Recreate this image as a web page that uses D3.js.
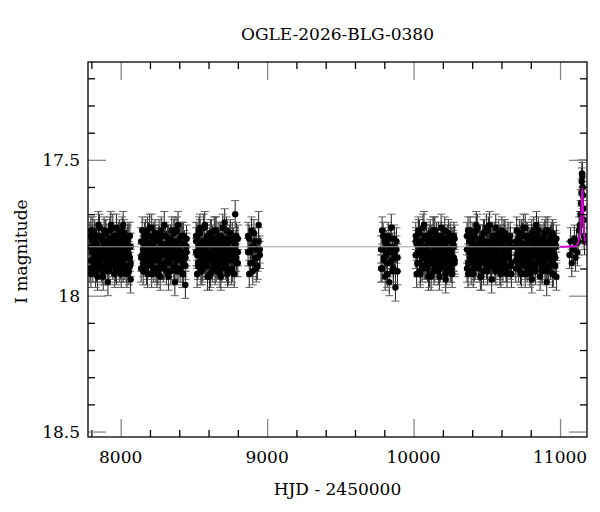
<!DOCTYPE html>
<html><head><meta charset="utf-8">
<script src="https://d3js.org/d3.v7.min.js"></script>
<style>body{margin:0;background:#fff}text{font-family:"DejaVu Serif","Liberation Serif",serif;fill:#000}</style>
</head><body><svg id="c" width="600" height="512"></svg>
<script>
const title = "OGLE-2026-BLG-0380";
const xLabel = "HJD - 2450000";
const yLabel = "I magnitude";
const xTicks = [8000, 9000, 10000, 11000];
const yTicks = [17.5, 18, 18.5];
const xDomain = [7777, 11184];
const yDomain = [17.14, 18.52];
const baseline = 17.82;
const typicalErr = 0.05;

const t1=[7790,7797,7803,7810,7816,7822,7829,7835,7842,7848,7855,7861,7868,7874,7881,7887,7894,7900,7907,7913,7920,7926,7933,7939,7946,7952,7959,7965,7972,7978,7985,7991,7998,8004,8011,8017,8024,8030,8037,8043,8050,8056,8063,8068];
const m1=[17.82,17.87,17.79,17.90,17.84,17.77,17.88,17.81,17.93,17.85,17.78,17.87,17.83,17.91,17.80,17.76,17.89,17.84,17.82,17.95,17.79,17.86,17.81,17.88,17.75,17.85,17.92,17.83,17.80,17.87,17.78,17.90,17.84,17.82,17.86,17.74,17.89,17.81,17.85,17.83,17.79,17.91,17.86,17.94];
const t2=[8140,8147,8154,8162,8169,8176,8183,8190,8198,8205,8212,8219,8226,8234,8241,8248,8255,8262,8270,8277,8284,8291,8298,8306,8313,8320,8327,8334,8342,8349,8356,8363,8370,8378,8385,8392,8399,8406,8414,8421,8428,8435,8442,8450];
const m2=[17.86,17.80,17.91,17.78,17.85,17.89,17.76,17.84,17.81,17.88,17.92,17.79,17.86,17.77,17.90,17.83,17.80,17.87,17.93,17.82,17.85,17.78,17.89,17.84,17.91,17.79,17.81,17.88,17.86,17.76,17.84,17.83,17.95,17.80,17.87,17.74,17.82,17.90,17.85,17.78,17.88,17.81,17.96,17.84];
const t3=[8515,8522,8528,8535,8541,8548,8554,8561,8567,8574,8580,8587,8593,8600,8606,8613,8619,8626,8632,8639,8645,8652,8658,8665,8671,8678,8684,8691,8697,8704,8710,8717,8723,8730,8736,8743,8749,8756,8762,8769,8775,8782,8790,8800];
const m3=[17.84,17.78,17.89,17.82,17.75,17.87,17.91,17.80,17.85,17.83,17.88,17.79,17.93,17.81,17.86,17.77,17.84,17.90,17.82,17.87,17.76,17.85,17.89,17.80,17.83,17.92,17.78,17.86,17.81,17.88,17.73,17.84,17.90,17.82,17.86,17.79,17.85,17.91,17.80,17.87,17.83,17.70,17.88,17.84];
const t4=[8870,8878,8886,8894,8902,8910,8918,8926,8934,8942,8950];
const m4=[17.84,17.79,17.88,17.82,17.91,17.77,17.86,17.83,17.89,17.80,17.85];
const t5=[9778,9785,9792,9799,9806,9813,9820,9827,9834,9841,9848,9855,9862,9869,9876,9883,9890];
const m5=[17.83,17.90,17.78,17.86,17.93,17.81,17.88,17.84,17.95,17.79,17.87,17.82,17.91,17.85,17.97,17.80,17.86];
const t6=[10015,10021,10027,10033,10040,10046,10052,10058,10064,10071,10077,10083,10089,10095,10102,10108,10114,10120,10126,10133,10139,10145,10151,10157,10164,10170,10176,10182,10188,10195,10201,10207,10213,10219,10226,10232,10238,10244,10250,10257,10263,10269,10275,10280];
const m6=[17.85,17.81,17.88,17.77,17.84,17.92,17.80,17.86,17.83,17.89,17.78,17.85,17.82,17.90,17.87,17.79,17.84,17.93,17.81,17.86,17.76,17.88,17.83,17.85,17.80,17.91,17.84,17.87,17.78,17.82,17.89,17.85,17.81,17.94,17.86,17.79,17.83,17.88,17.84,17.90,17.80,17.86,17.82,17.87];
const t7=[10365,10372,10379,10386,10393,10400,10407,10414,10421,10428,10435,10442,10449,10456,10463,10470,10477,10484,10491,10498,10505,10512,10519,10526,10533,10540,10547,10554,10561,10568,10575,10582,10589,10596,10603,10610,10617,10624,10631,10638,10645,10652,10660,10668];
const m7=[17.83,17.88,17.80,17.86,17.91,17.78,17.84,17.82,17.89,17.76,17.85,17.87,17.81,17.93,17.84,17.79,17.88,17.83,17.86,17.75,17.90,17.82,17.85,17.80,17.94,17.87,17.83,17.78,17.89,17.84,17.81,17.86,17.91,17.79,17.85,17.82,17.88,17.77,17.84,17.90,17.83,17.86,17.80,17.92];
const t8=[10698,10704,10711,10717,10724,10730,10736,10743,10749,10756,10762,10768,10775,10781,10788,10794,10800,10807,10813,10820,10826,10832,10839,10845,10852,10858,10864,10871,10877,10884,10890,10896,10903,10909,10916,10922,10928,10935,10941,10948,10954,10960,10967,10975];
const m8=[17.87,17.82,17.79,17.90,17.84,17.86,17.77,17.88,17.83,17.81,17.92,17.85,17.78,17.89,17.84,17.80,17.87,17.94,17.82,17.85,17.79,17.91,17.83,17.86,17.76,17.88,17.84,17.81,17.90,17.85,17.78,17.87,17.83,17.95,17.80,17.86,17.82,17.89,17.84,17.77,17.88,17.85,17.81,17.93];
const t9=[11065,11072,11080,11090,11098,11105,11112,11118,11124,11130,11135,11140,11143,11146,11148,11150,11152,11154,11156,11158,11161,11164,11167];
const m9=[17.85,17.80,17.88,17.83,17.79,17.86,17.81,17.84,17.80,17.76,17.74,17.70,17.66,17.62,17.58,17.55,17.56,17.60,17.63,17.68,17.72,17.78,17.80];
// second and third observations on the same nights
const n1=[17.78,17.92,17.84,17.76,17.88,17.82,17.80,17.90,17.86,17.74,17.83,17.89,17.79,17.85,17.93,17.81,17.77,17.87,17.84,17.80,17.91,17.76,17.86,17.82,17.89,17.78,17.84,17.90,17.75,17.83,17.88,17.81,17.79,17.92,17.85,17.87,17.77,17.84,17.90,17.80,17.86,17.82,17.78,17.88];
const n2=[17.90,17.76,17.83,17.87,17.80,17.85,17.92,17.78,17.82,17.88,17.75,17.84,17.90,17.79,17.86,17.83,17.91,17.77,17.85,17.89,17.81,17.84,17.74,17.88,17.82,17.86,17.79,17.80,17.91,17.85,17.83,17.77,17.89,17.81,17.76,17.90,17.84,17.79,17.86,17.92,17.78,17.85,17.89,17.82];
const n3=[17.80,17.85,17.88,17.81,17.77,17.91,17.83,17.86,17.75,17.84,17.89,17.82,17.78,17.87,17.80,17.92,17.85,17.79,17.88,17.76,17.83,17.90,17.85,17.78,17.81,17.87,17.93,17.84,17.79,17.86,17.82,17.89,17.76,17.85,17.91,17.80,17.83,17.87,17.78,17.84,17.92,17.81,17.86,17.79];
const modelT=[7777,11000,11100,11120,11130,11138,11143,11147,11150,11152,11154,11157,11161,11166,11172,11184];
const modelM=[17.82,17.82,17.818,17.81,17.79,17.76,17.72,17.67,17.62,17.60,17.62,17.67,17.73,17.78,17.80,17.815];

const seasons=[[t1,m1],[t1,n1],[t1,n2],[t2,m2],[t2,n2],[t2,n3],[t3,m3],[t3,n3],[t3,n1],[t4,m4],[t4,n1],[t5,m5],[t5,n2],
 [t6,m6],[t6,n1],[t6,n3],[t7,m7],[t7,n2],[t7,n1],[t8,m8],[t8,n3],[t8,n2],[t9,m9]];
const pts=seasons.flatMap(([t,m])=>d3.zip(t,m));

const L=88,R=587,T=62,B=437;
const x=d3.scaleLinear().domain(xDomain).range([L,R]);
const y=d3.scaleLinear().domain(yDomain).range([T,B]);
const svg=d3.select("#c");
svg.append("clipPath").attr("id","clip").append("rect").attr("x",L).attr("y",T).attr("width",R-L).attr("height",B-T);
const g=svg.append("g").attr("clip-path","url(#clip)");

const eb=g.append("g").attr("stroke-width",1);
pts.forEach(([t,m])=>{
  const X=x(t),y1=y(m-typicalErr),y2=y(m+typicalErr);
  eb.append("line").attr("x1",X).attr("x2",X).attr("y1",y1).attr("y2",y2).attr("stroke","#222");
  eb.append("line").attr("x1",X-4).attr("x2",X+4).attr("y1",y1).attr("y2",y1).attr("stroke","#666");
  eb.append("line").attr("x1",X-4).attr("x2",X+4).attr("y1",y2).attr("y2",y2).attr("stroke","#666");
});
g.append("g").selectAll("circle").data(pts).join("circle").attr("cx",d=>x(d[0])).attr("cy",d=>y(d[1])).attr("r",3.2).attr("fill","#000");
g.append("path").datum(d3.zip(xDomain,[baseline,baseline])).attr("fill","none").attr("stroke","#a0a0a0").attr("stroke-width",1)
 .attr("d",d3.line().x(d=>x(d[0])).y(d=>y(d[1])));
g.append("path").datum(d3.zip(modelT,modelM).filter(d=>d[0]>=11000)).attr("fill","none").attr("stroke","#d000d0").attr("stroke-width",1.8)
 .attr("d",d3.line().curve(d3.curveMonotoneX).x(d=>x(d[0])).y(d=>y(d[1])));

const xMinor=d3.range(7800,11200,200).filter(v=>v%1000!==0);
const yMinor=d3.range(17.2,18.55,0.1).map(v=>+v.toFixed(1)).filter(v=>!yTicks.includes(v));
const ax=svg.append("g");
const add=(axis,tr,col)=>{const s=ax.append("g").attr("transform",tr).call(axis);s.selectAll("path").remove();s.selectAll("line").attr("stroke",col).attr("stroke-width",1.3);s.selectAll("text").remove();};
add(d3.axisBottom(x).tickValues(xTicks).tickSize(-18),`translate(0,${B})`,"#888");
add(d3.axisBottom(x).tickValues(xMinor).tickSize(-7),`translate(0,${B})`,"#000");
add(d3.axisTop(x).tickValues(xTicks).tickSize(-18),`translate(0,${T})`,"#888");
add(d3.axisTop(x).tickValues(xMinor).tickSize(-7),`translate(0,${T})`,"#000");
add(d3.axisLeft(y).tickValues(yTicks).tickSize(-18),`translate(${L},0)`,"#888");
add(d3.axisLeft(y).tickValues(yMinor).tickSize(-7),`translate(${L},0)`,"#000");
add(d3.axisRight(y).tickValues(yTicks).tickSize(-18),`translate(${R},0)`,"#888");
add(d3.axisRight(y).tickValues(yMinor).tickSize(-7),`translate(${R},0)`,"#000");
svg.append("rect").attr("x",L).attr("y",T).attr("width",R-L).attr("height",B-T).attr("fill","none").attr("stroke","#000").attr("stroke-width",1.3);

svg.selectAll(".xl").data(xTicks).join("text").attr("x",d=>x(d)).attr("y",463).attr("text-anchor","middle").attr("font-size",17).text(d=>d);
svg.selectAll(".yl").data(yTicks).join("text").attr("x",80).attr("y",d=>y(d)+6).attr("text-anchor","end").attr("font-size",17).text(d=>d);
svg.append("text").attr("x",(L+R)/2).attr("y",40).attr("text-anchor","middle").attr("font-size",17).text(title);
svg.append("text").attr("x",(L+R)/2).attr("y",495).attr("text-anchor","middle").attr("font-size",17).text(xLabel);
svg.append("text").attr("transform",`translate(27,${(T+B)/2+2}) rotate(-90)`).attr("text-anchor","middle").attr("font-size",17).text(yLabel);
</script></body></html>
